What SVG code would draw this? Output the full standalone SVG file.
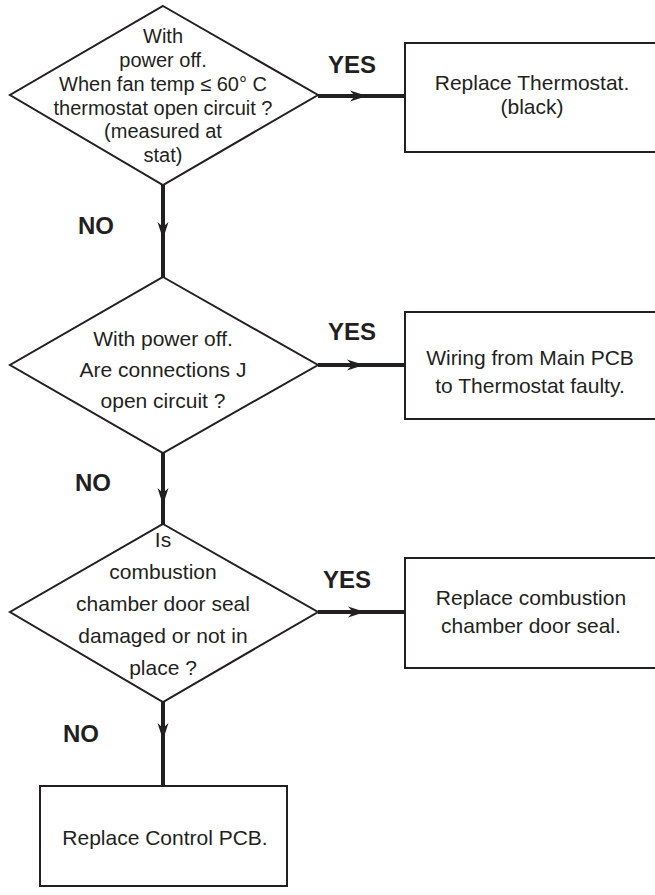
<svg xmlns="http://www.w3.org/2000/svg" xmlns:xlink="http://www.w3.org/1999/xlink" width="655" height="895" viewBox="0 0 655 895">
<style>
.shape{fill:#fff;stroke:#231f20;stroke-width:2}
.t{font-family:"Liberation Sans",Arial,Helvetica,sans-serif;font-size:21px;fill:#231f20;text-anchor:middle}
.t1{font-size:20px}
.lbl{font-family:"Liberation Sans",Arial,Helvetica,sans-serif;font-size:24px;font-weight:bold;fill:#231f20}
.conn{stroke:#231f20;stroke-width:4;fill:none}
.ah{fill:#231f20}
</style>
<defs>
<path id="ah" d="M0,0 L-17,-5.5 L-12,0 L-17,5.5 Z"/>
</defs>
<rect width="655" height="895" fill="#fff"/>
<g id="connectors">
<line class="conn" x1="318" y1="96" x2="405" y2="96"/>
<use xlink:href="#ah" class="ah" transform="translate(367,96)"/>
<line class="conn" x1="318" y1="365" x2="405" y2="365"/>
<use xlink:href="#ah" class="ah" transform="translate(364,365)"/>
<line class="conn" x1="318" y1="612" x2="405" y2="612"/>
<use xlink:href="#ah" class="ah" transform="translate(365,612)"/>
<line class="conn" x1="163" y1="185" x2="163" y2="277"/>
<use xlink:href="#ah" class="ah" transform="translate(163,239) rotate(90)"/>
<line class="conn" x1="163" y1="453" x2="163" y2="524"/>
<use xlink:href="#ah" class="ah" transform="translate(163,505) rotate(90)"/>
<line class="conn" x1="163" y1="702" x2="163" y2="786"/>
<use xlink:href="#ah" class="ah" transform="translate(163,740) rotate(90)"/>
<text class="lbl" x="328" y="73">YES</text>
<text class="lbl" x="328" y="340">YES</text>
<text class="lbl" x="323" y="588">YES</text>
<text class="lbl" x="78" y="234">NO</text>
<text class="lbl" x="75" y="491">NO</text>
<text class="lbl" x="63" y="742">NO</text>
</g>
<g id="d1">
<polygon class="shape" points="163,6 318,95 163,185 10,95"/>
<text class="t t1" x="163" y="43">With</text>
<text class="t t1" x="163" y="67">power off.</text>
<text class="t t1" x="163" y="91">When fan temp ≤ 60° C</text>
<text class="t t1" x="163" y="115">thermostat open circuit ?</text>
<text class="t t1" x="163" y="138">(measured at</text>
<text class="t t1" x="163" y="162">stat)</text>
</g>
<g id="b1">
<rect class="shape" x="405" y="43" width="260" height="109"/>
<text class="t" x="532" y="90">Replace Thermostat.</text>
<text class="t" x="532" y="114">(black)</text>
</g>
<g id="d2">
<polygon class="shape" points="163,277 318,365 163,453 10,365"/>
<text class="t" x="163" y="346">With power off.</text>
<text class="t" x="163" y="377">Are connections J</text>
<text class="t" x="163" y="408">open circuit ?</text>
</g>
<g id="b2">
<rect class="shape" x="405" y="312" width="260" height="107"/>
<text class="t" x="530" y="365">Wiring from Main PCB</text>
<text class="t" x="530" y="393">to Thermostat faulty.</text>
</g>
<g id="d3">
<polygon class="shape" points="163,524 318,612 163,702 10,612"/>
<text class="t" x="163" y="547">Is</text>
<text class="t" x="163" y="579">combustion</text>
<text class="t" x="163" y="611">chamber door seal</text>
<text class="t" x="163" y="643">damaged or not in</text>
<text class="t" x="163" y="675">place ?</text>
</g>
<g id="b3">
<rect class="shape" x="405" y="558" width="260" height="110"/>
<text class="t" x="531" y="605">Replace combustion</text>
<text class="t" x="531" y="633">chamber door seal.</text>
</g>
<g id="b4">
<rect class="shape" x="40" y="786" width="247" height="100"/>
<text class="t" x="165" y="845">Replace Control PCB.</text>
</g>
</svg>
